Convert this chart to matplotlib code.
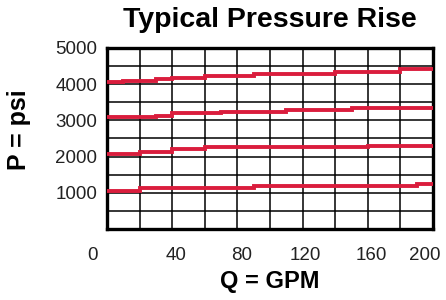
import matplotlib
matplotlib.use('Agg')
import matplotlib.pyplot as plt
import matplotlib.transforms as mtransforms
import numpy as np

plt.rcParams['font.family'] = ['Liberation Sans', 'DejaVu Sans']

# step curves (flow edges in GPM, pressure in psi)
edges_4000 = [0, 10, 30, 40, 60, 90, 140, 180, 200]
psi_4000 = [4050, 4080, 4130, 4180, 4230, 4280, 4340, 4410]

edges_3000 = [0, 30, 40, 70, 110, 150, 200]
psi_3000 = [3080, 3130, 3190, 3230, 3280, 3350]

edges_2000 = [0, 20, 40, 60, 160, 200]
psi_2000 = [2070, 2130, 2200, 2250, 2300]

edges_1000 = [0, 20, 90, 190, 200]
psi_1000 = [1060, 1130, 1180, 1230]

x_ticks = [0, 40, 80, 120, 160, 200]
y_ticks = [1000, 2000, 3000, 4000, 5000]

fig = plt.figure(figsize=(4.46, 3.0), dpi=100)
ax = fig.add_axes([0.240, 0.237, 0.731, 0.603])

red = '#da1d3d'
for e, v in [(edges_4000, psi_4000), (edges_3000, psi_3000),
             (edges_2000, psi_2000), (edges_1000, psi_1000)]:
    ax.stairs(v, e, baseline=None, color=red, linewidth=2.8, zorder=3)

ax.set_xlim(0, 200)
ax.set_ylim(0, 5000)
ax.set_xticks(np.arange(0, 201, 20), minor=True)
ax.set_yticks(np.arange(0, 5001, 500), minor=True)
ax.set_xticks(x_ticks, [str(t) for t in x_ticks])
ax.set_yticks(y_ticks, [str(t) for t in y_ticks])
ax.grid(which='both', color='black', linewidth=1.1, zorder=1)
ax.set_axisbelow(True)
ax.tick_params(which='both', length=0)
ax.tick_params(axis='x', pad=13, labelsize=13.5, colors='#222222')
ax.tick_params(axis='y', pad=7, labelsize=13.5, colors='#222222')
for s in ax.spines.values():
    s.set_linewidth(2.4)

# x tick labels in the original are nudged: "0" left of the box, "200" inside
shifts = [-15, 4, 4, 3, 3, -8]
for lab, dx in zip(ax.get_xticklabels(), shifts):
    lab.set_transform(lab.get_transform() +
                      mtransforms.ScaledTranslation(dx / 100, 0, fig.dpi_scale_trans))

ax.set_title('Typical Pressure Rise', fontsize=20.5, fontweight='bold', pad=15)
ax.set_xlabel('Q = GPM', fontsize=17, fontweight='bold', labelpad=4)
ax.set_ylabel('P = psi', fontsize=18, fontweight='bold')
ax.yaxis.set_label_coords(-0.232, 0.55)

fig.savefig('out.png', dpi=100)
